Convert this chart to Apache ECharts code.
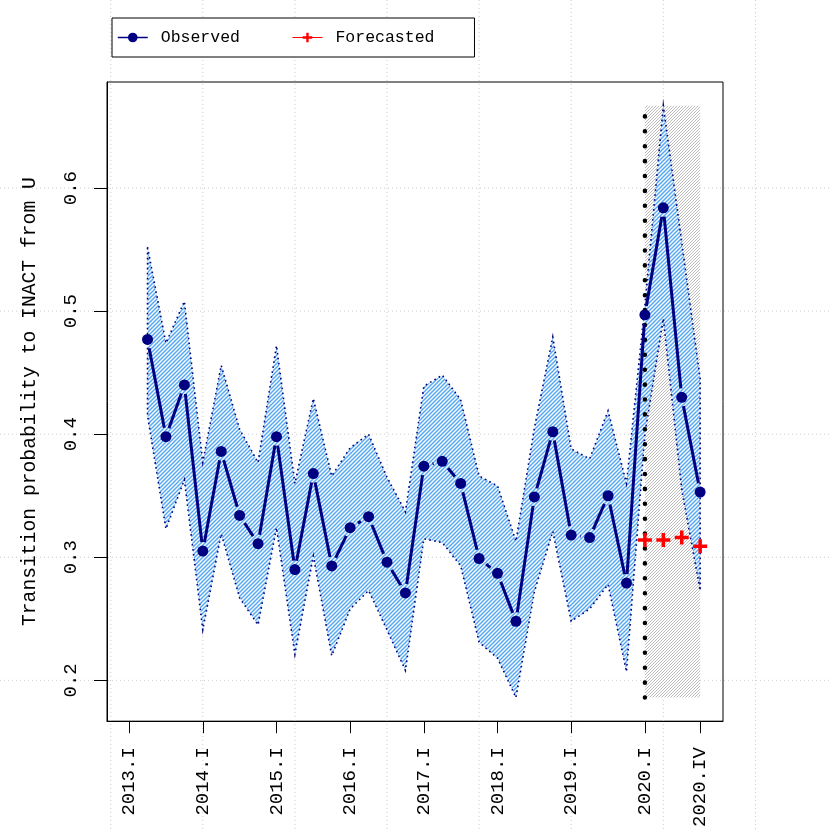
<!DOCTYPE html>
<html>
<head>
<meta charset="utf-8">
<script src="https://cdn.jsdelivr.net/npm/echarts@6/dist/echarts.min.js"></script>
<style>
  html, body { margin: 0; padding: 0; background: #ffffff; }
  #chart { width: 830px; height: 830px; }
</style>
</head>
<body>
<div id="chart"></div>
<script>
// quarters of the observed series
const periods = [
  '2013.II', '2013.III', '2013.IV',
  '2014.I', '2014.II', '2014.III', '2014.IV',
  '2015.I', '2015.II', '2015.III', '2015.IV',
  '2016.I', '2016.II', '2016.III', '2016.IV',
  '2017.I', '2017.II', '2017.III', '2017.IV',
  '2018.I', '2018.II', '2018.III', '2018.IV',
  '2019.I', '2019.II', '2019.III', '2019.IV',
  '2020.I', '2020.II', '2020.III', '2020.IV'
];
const observed = [
  0.477, 0.398, 0.440,
  0.305, 0.386, 0.334, 0.311,
  0.398, 0.290, 0.368, 0.293,
  0.324, 0.333, 0.296, 0.271,
  0.374, 0.378, 0.360, 0.299,
  0.287, 0.248, 0.349, 0.402,
  0.318, 0.316, 0.350, 0.279,
  0.497, 0.584, 0.430, 0.353
];
const upperBand = [
  0.552, 0.474, 0.508,
  0.377, 0.456, 0.404, 0.377,
  0.472, 0.360, 0.429, 0.366,
  0.389, 0.400, 0.365, 0.337,
  0.439, 0.448, 0.428, 0.366,
  0.358, 0.313, 0.405, 0.479,
  0.388, 0.380, 0.419, 0.360,
  0.505, 0.667, 0.556, 0.445
];
const lowerBand = [
  0.415, 0.323, 0.363,
  0.241, 0.319, 0.267, 0.245,
  0.324, 0.221, 0.301, 0.220,
  0.258, 0.273, 0.241, 0.208,
  0.315, 0.312, 0.293, 0.231,
  0.218, 0.186, 0.272, 0.321,
  0.248, 0.258, 0.278, 0.207,
  0.400, 0.494, 0.355, 0.273
];

const forecastPeriods = ['2020.I', '2020.II', '2020.III', '2020.IV'];
const forecasted = [0.314, 0.314, 0.316, 0.309];

// shaded forecast window
const windowPeriods = ['2020.I', '2020.IV'];
const windowRange = [0.186, 0.667];

// axes
const xTickValues = [2013, 2014, 2015, 2016, 2017, 2018, 2019, 2020, 2020.75];
const xTickLabels = ['2013.I', '2014.I', '2015.I', '2016.I', '2017.I', '2018.I', '2019.I', '2020.I', '2020.IV'];
const yTickValues = [0.2, 0.3, 0.4, 0.5, 0.6];
const yTickLabels = ['0.2', '0.3', '0.4', '0.5', '0.6'];
const xGridValues = [2012.75, 2014, 2015.25, 2016.5, 2017.75, 2019, 2020.25, 2021.5];

const FONT = '"Liberation Mono", "DejaVu Sans Mono", monospace';
const NAVY = '#000080';

const roman = {I: 1, II: 2, III: 3, IV: 4};
const toX = (p) => {
  const [y, q] = p.split('.');
  return Number(y) + (roman[q] - 1) / 4;
};

const obsPoints = periods.map((p, i) => [toX(p), observed[i]]);
const fcPoints = forecastPeriods.map((p, i) => [toX(p), forecasted[i]]);
const bandPolygon = periods.map((p, i) => [toX(p), upperBand[i]])
  .concat(periods.map((p, i) => [toX(p), lowerBand[i]]).reverse());
const segments = obsPoints.slice(0, -1).map((p, i) => [p[0], p[1], obsPoints[i + 1][0], obsPoints[i + 1][1]]);

// diagonal hatching, like R's polygon(density=...)
const hatch = (color, step, width) => {
  const c = document.createElement('canvas');
  c.width = c.height = step;
  const g = c.getContext('2d');
  g.fillStyle = '#ffffff';
  g.fillRect(0, 0, step, step);
  g.strokeStyle = color;
  g.lineWidth = width;
  g.beginPath();
  g.moveTo(-1, 1); g.lineTo(1, -1);
  g.moveTo(0, step); g.lineTo(step, 0);
  g.moveTo(step - 1, step + 1); g.lineTo(step + 1, step - 1);
  g.stroke();
  return {image: c, repeat: 'repeat'};
};
const bluePattern = hatch('#55a8f2', 4, 1.5);
const grayPattern = hatch('#b4b4b4', 3, 0.9);

const chart = echarts.init(document.getElementById('chart'), null, {renderer: 'canvas'});

const option = {
  animation: false,
  backgroundColor: '#ffffff',
  grid: {
    left: 107, top: 82, right: 107, bottom: 108,
    show: true, borderColor: '#000', borderWidth: 1, backgroundColor: 'transparent'
  },
  legend: {
    left: 112, top: 18,
    orient: 'horizontal',
    padding: [11, 40, 11, 5],
    itemWidth: 30, itemHeight: 12, itemGap: 52,
    borderColor: '#000', borderWidth: 1, borderRadius: 0,
    backgroundColor: '#ffffff',
    textStyle: {fontFamily: FONT, fontSize: 16.5, color: '#000', padding: [0, 0, 0, 8]},
    data: [
      {name: 'Observed', lineStyle: {opacity: 1, width: 1.5, color: NAVY}},
      {name: 'Forecasted', lineStyle: {opacity: 1, width: 1, color: '#ff0000'}}
    ]
  },
  xAxis: {
    type: 'value', min: 2012.70, max: 2021.06,
    axisLine: {show: true, onZero: false, lineStyle: {color: '#000', width: 1}},
    axisTick: {show: true, length: 12, customValues: xTickValues, lineStyle: {color: '#000', width: 1}},
    axisLabel: {
      customValues: xTickValues, rotate: 90, margin: 26,
      fontFamily: FONT, fontSize: 19, color: '#000',
      formatter: (v) => {
        const i = xTickValues.findIndex(t => Math.abs(t - v) < 1e-6);
        return i < 0 ? '' : xTickLabels[i];
      }
    },
    splitLine: {show: false}
  },
  yAxis: {
    type: 'value', min: 0.1668, max: 0.6862,
    name: 'Transition probability to INACT from U',
    nameLocation: 'middle', nameRotate: 90, nameGap: 67,
    nameTextStyle: {fontFamily: FONT, fontSize: 19.7, color: '#000'},
    axisLine: {show: true, lineStyle: {color: '#000', width: 1}},
    axisTick: {show: true, length: 13, customValues: yTickValues, lineStyle: {color: '#000', width: 1}},
    axisLabel: {
      customValues: yTickValues, rotate: 90, margin: 27,
      fontFamily: FONT, fontSize: 19, color: '#000',
      formatter: (v) => {
        const i = yTickValues.findIndex(t => Math.abs(t - v) < 1e-6);
        return i < 0 ? '' : yTickLabels[i];
      }
    },
    splitLine: {show: false}
  },
  series: [
    {
      // gray forecast window
      type: 'custom', name: 'window', z: 1, silent: true,
      data: [[toX(windowPeriods[0]), windowRange[1], toX(windowPeriods[1]), windowRange[0]]],
      encode: {x: [0, 2], y: [1, 3]},
      renderItem: (params, api) => {
        const a = api.coord([api.value(0), api.value(1)]);
        const b = api.coord([api.value(2), api.value(3)]);
        return {
          type: 'rect',
          shape: {x: a[0], y: a[1], width: b[0] - a[0], height: b[1] - a[1]},
          style: {fill: grayPattern, stroke: null}
        };
      }
    },
    {
      // confidence band
      type: 'custom', name: 'band', z: 2, silent: true,
      data: bandPolygon,
      encode: {x: 0, y: 1},
      renderItem: (params, api) => {
        if (params.dataIndex !== 0) return null;
        const pts = bandPolygon.map(p => api.coord(p));
        return {
          type: 'polygon',
          shape: {points: pts},
          style: {fill: bluePattern, stroke: NAVY, lineWidth: 1.6, lineDash: [1.6, 3.4]}
        };
      }
    },
    {
      // forecast start marker
      type: 'custom', name: 'start', z: 3, silent: true,
      data: [[toX(windowPeriods[0]), windowRange[0], toX(windowPeriods[0]), windowRange[1]]],
      encode: {x: [0, 2], y: [1, 3]},
      renderItem: (params, api) => {
        const a = api.coord([api.value(0), api.value(1)]);
        const b = api.coord([api.value(2), api.value(3)]);
        return {
          type: 'line',
          shape: {x1: a[0], y1: a[1], x2: b[0], y2: b[1]},
          style: {stroke: '#000', lineWidth: 4.5, lineDash: [0.1, 14.8], lineCap: 'round'}
        };
      }
    },
    {
      // observed line, drawn R type="b" style with gaps around points
      type: 'custom', name: 'obsSegments', z: 4, silent: true,
      data: segments,
      encode: {x: [0, 2], y: [1, 3]},
      renderItem: (params, api) => {
        const a = api.coord([api.value(0), api.value(1)]);
        const b = api.coord([api.value(2), api.value(3)]);
        const dx = b[0] - a[0], dy = b[1] - a[1];
        const len = Math.sqrt(dx * dx + dy * dy);
        const gap = 9;
        if (len <= 2 * gap) return null;
        const ux = dx / len, uy = dy / len;
        return {
          type: 'line',
          shape: {x1: a[0] + ux * gap, y1: a[1] + uy * gap, x2: b[0] - ux * gap, y2: b[1] - uy * gap},
          style: {stroke: NAVY, lineWidth: 3}
        };
      }
    },
    {
      name: 'Observed', type: 'line', z: 5,
      data: obsPoints,
      symbol: 'circle', symbolSize: 11, showSymbol: true,
      itemStyle: {color: NAVY},
      lineStyle: {opacity: 0, color: NAVY}
    },
    {
      name: 'Forecasted', type: 'line', z: 6,
      data: fcPoints,
      symbol: 'path://M-1.5,-6 L1.5,-6 L1.5,-1.5 L6,-1.5 L6,1.5 L1.5,1.5 L1.5,6 L-1.5,6 L-1.5,1.5 L-6,1.5 L-6,-1.5 L-1.5,-1.5 Z',
      symbolSize: 14, showSymbol: true,
      itemStyle: {color: '#ff0000'},
      lineStyle: {opacity: 0, color: '#ff0000'}
    }
  ]
};

chart.setOption(option);

// dotted reference grid spanning the whole device, placed via the axes' scales
const gridLines = [];
xGridValues.forEach(v => {
  const px = chart.convertToPixel({xAxisIndex: 0}, v);
  gridLines.push({
    type: 'line', silent: true, z: 0,
    shape: {x1: px, y1: 0, x2: px, y2: 830},
    style: {stroke: '#cccccc', lineWidth: 1, lineDash: [1, 3]}
  });
});
yTickValues.forEach(v => {
  const py = chart.convertToPixel({yAxisIndex: 0}, v);
  gridLines.push({
    type: 'line', silent: true, z: 0,
    shape: {x1: 0, y1: py, x2: 830, y2: py},
    style: {stroke: '#cccccc', lineWidth: 1, lineDash: [1, 3]}
  });
});
chart.setOption({graphic: gridLines});
</script>
</body>
</html>
